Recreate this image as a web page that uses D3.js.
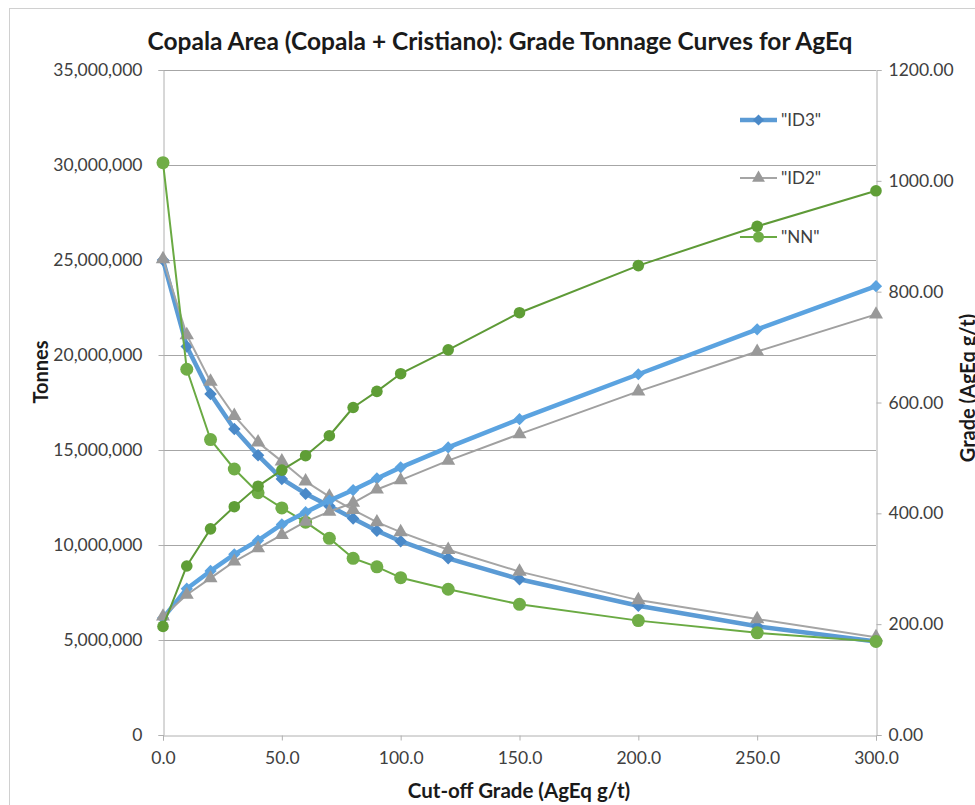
<!DOCTYPE html>
<html>
<head>
<meta charset="utf-8">
<script src="https://cdn.jsdelivr.net/npm/d3@7"></script>
<style>
  html, body { margin: 0; padding: 0; background: #fff; }
  svg { display: block; font-family: Lato, "Open Sans", sans-serif; }
</style>
</head>
<body>
<svg id="chart" width="975" height="805"></svg>
<script>
// Cut-off grades (AgEq g/t)
const cutoffs = [0, 10, 20, 30, 40, 50, 60, 70, 80, 90, 100, 120, 150, 200, 250, 300];

// Tonnes above cut-off, by estimation method
const tonnesID3 = [25000000, 20450000, 17950000, 16100000, 14720000, 13480000, 12700000, 12050000, 11400000, 10750000, 10200000, 9300000, 8200000, 6800000, 5720000, 4920000];
const tonnesID2 = [25050000, 21050000, 18600000, 16800000, 15400000, 14400000, 13350000, 12550000, 11850000, 11200000, 10680000, 9750000, 8600000, 7100000, 6100000, 5150000];
const tonnesNN  = [30120000, 19250000, 15550000, 14000000, 12750000, 11950000, 11200000, 10350000, 9300000, 8850000, 8280000, 7670000, 6880000, 6020000, 5380000, 4920000];

// Average grade above cut-off (AgEq g/t)
const gradeID3 = [211, 264, 296, 326, 351, 380, 402, 423, 442, 463, 483, 519, 570, 651, 732, 810];
const gradeID2 = [214, 253, 283, 313, 337, 361, 385, 403, 419, 443, 460, 495, 543, 620, 692, 759];
const gradeNN  = [196, 305, 372, 412, 449, 478, 504, 540, 591, 620, 652, 695, 762, 847, 918, 982];

// Axis ticks
const xTicks = [0, 50, 100, 150, 200, 250, 300];
const tonnesTicks = [0, 5000000, 10000000, 15000000, 20000000, 25000000, 30000000, 35000000];
const gradeTicks = [0, 200, 400, 600, 800, 1000, 1200];

const legendLabels = ['"ID3"', '"ID2"', '"NN"'];

const svg = d3.select("#chart");
const L = 163, R = 876, T = 70, B = 735;

const x = d3.scaleLinear().domain([0, 300]).range([L, R]);
const yT = d3.scaleLinear().domain([0, 35000000]).range([B, T]);
const yG = d3.scaleLinear().domain([0, 1200]).range([B, T]);

// outer chart frame
svg.append("rect")
  .attr("x", 9.5).attr("y", 8.5).attr("width", 1000).attr("height", 1000)
  .attr("fill", "none").attr("stroke", "#d0d0d0").attr("stroke-width", 1);

// title
svg.append("text")
  .attr("x", 500).attr("y", 50)
  .attr("text-anchor", "middle")
  .attr("font-size", 24.5).attr("font-weight", "bold").attr("fill", "#1a1a1a")
  .text("Copala Area (Copala + Cristiano): Grade Tonnage Curves for AgEq");

// horizontal gridlines on the tonnes scale
svg.append("g").selectAll("line").data(tonnesTicks.filter(d => d > 0)).join("line")
  .attr("x1", L).attr("x2", R)
  .attr("y1", d => Math.round(yT(d)) + 0.5).attr("y2", d => Math.round(yT(d)) + 0.5)
  .attr("stroke", "#a6a6a6").attr("stroke-width", 1);

function styleAxis(g) {
  g.select(".domain").attr("stroke", "#b0b0b0");
  g.selectAll(".tick line").attr("stroke", "#b0b0b0");
  g.selectAll(".tick text").attr("fill", "#404040").attr("font-size", 17.5)
    .attr("font-family", "Lato, 'Open Sans', sans-serif");
}

// left axis (tonnes)
svg.append("g").attr("transform", `translate(${L + 0.5},0)`)
  .call(d3.axisLeft(yT).tickValues(tonnesTicks).tickFormat(d3.format(",")).tickSizeOuter(0).tickSize(5).tickPadding(16))
  .call(styleAxis);

// right axis (grade)
svg.append("g").attr("transform", `translate(${R + 0.5},0)`)
  .call(d3.axisRight(yG).tickValues(gradeTicks).tickFormat(d => d.toFixed(2)).tickSizeOuter(0).tickSize(5).tickPadding(7))
  .call(styleAxis);

// bottom axis (cut-off grade)
svg.append("g").attr("transform", `translate(0,${B + 0.5})`)
  .call(d3.axisBottom(x).tickValues(xTicks).tickFormat(d => d.toFixed(1)).tickSizeOuter(0).tickSize(5).tickPadding(11))
  .call(styleAxis);

// axis titles
svg.append("text")
  .attr("transform", `translate(48,372) rotate(-90)`)
  .attr("text-anchor", "middle")
  .attr("font-size", 20).attr("font-weight", "bold").attr("fill", "#1a1a1a")
  .text("Tonnes");

svg.append("text")
  .attr("transform", `translate(975,388) rotate(-90)`)
  .attr("text-anchor", "middle")
  .attr("font-size", 20).attr("font-weight", "bold").attr("fill", "#1a1a1a")
  .text("Grade (AgEq g/t)");

svg.append("text")
  .attr("x", 519).attr("y", 798)
  .attr("text-anchor", "middle")
  .attr("font-size", 20.5).attr("font-weight", "bold").attr("fill", "#1a1a1a")
  .text("Cut-off Grade (AgEq g/t)");

// series definitions
const diamond = d3.symbol().type(d3.symbolDiamond2);
const triangle = d3.symbol().type(d3.symbolTriangle);

const series = [
  { values: tonnesID3, y: yT, line: "#5b9bd5", fill: "#4a89c8", width: 4.5, shape: "diamond", size: 100 },
  { values: tonnesID2, y: yT, line: "#a5a5a5", fill: "#999999", width: 2,   shape: "triangle", size: 90 },
  { values: tonnesNN,  y: yT, line: "#6aaa43", fill: "#70ad47", width: 2,   shape: "circle", r: 6.5 },
  { values: gradeID3,  y: yG, line: "#5ba3e0", fill: "#5ba3e0", width: 4.5, shape: "diamond", size: 95 },
  { values: gradeID2,  y: yG, line: "#a0a0a0", fill: "#999999", width: 2,   shape: "triangle", size: 85 },
  { values: gradeNN,   y: yG, line: "#5e9a37", fill: "#5f9e36", width: 2,   shape: "circle", r: 5.8 }
];

function drawMarkers(g, s, pts) {
  if (s.shape === "circle") {
    g.selectAll("circle").data(pts).join("circle")
      .attr("cx", d => d[0]).attr("cy", d => d[1]).attr("r", s.r).attr("fill", s.fill);
  } else {
    const gen = (s.shape === "diamond" ? diamond : triangle).size(s.size);
    g.selectAll("path.m").data(pts).join("path").attr("class", "m")
      .attr("transform", d => `translate(${d[0]},${d[1]})`)
      .attr("d", gen()).attr("fill", s.fill);
  }
}

const lineGen = d3.line();
series.forEach(s => {
  const pts = cutoffs.map((c, i) => [x(c), s.y(s.values[i])]);
  const g = svg.append("g");
  g.append("path").attr("d", lineGen(pts))
    .attr("fill", "none").attr("stroke", s.line).attr("stroke-width", s.width)
    .attr("stroke-linejoin", "round");
  drawMarkers(g, s, pts);
});

// legend
const legendY = [120, 178, 237];
series.slice(0, 3).forEach((s, i) => {
  const g = svg.append("g");
  const yy = legendY[i];
  g.append("line").attr("x1", 740).attr("x2", 777).attr("y1", yy).attr("y2", yy)
    .attr("stroke", s.line).attr("stroke-width", s.width);
  drawMarkers(g, s.shape === "circle" ? { ...s, r: 5.5 } : { ...s, size: s.size * 0.8 }, [[758.5, yy]]);
  g.append("text").attr("x", 781).attr("y", yy + 6)
    .attr("font-size", 17).attr("fill", "#404040")
    .text(legendLabels[i]);
});
</script>
</body>
</html>
